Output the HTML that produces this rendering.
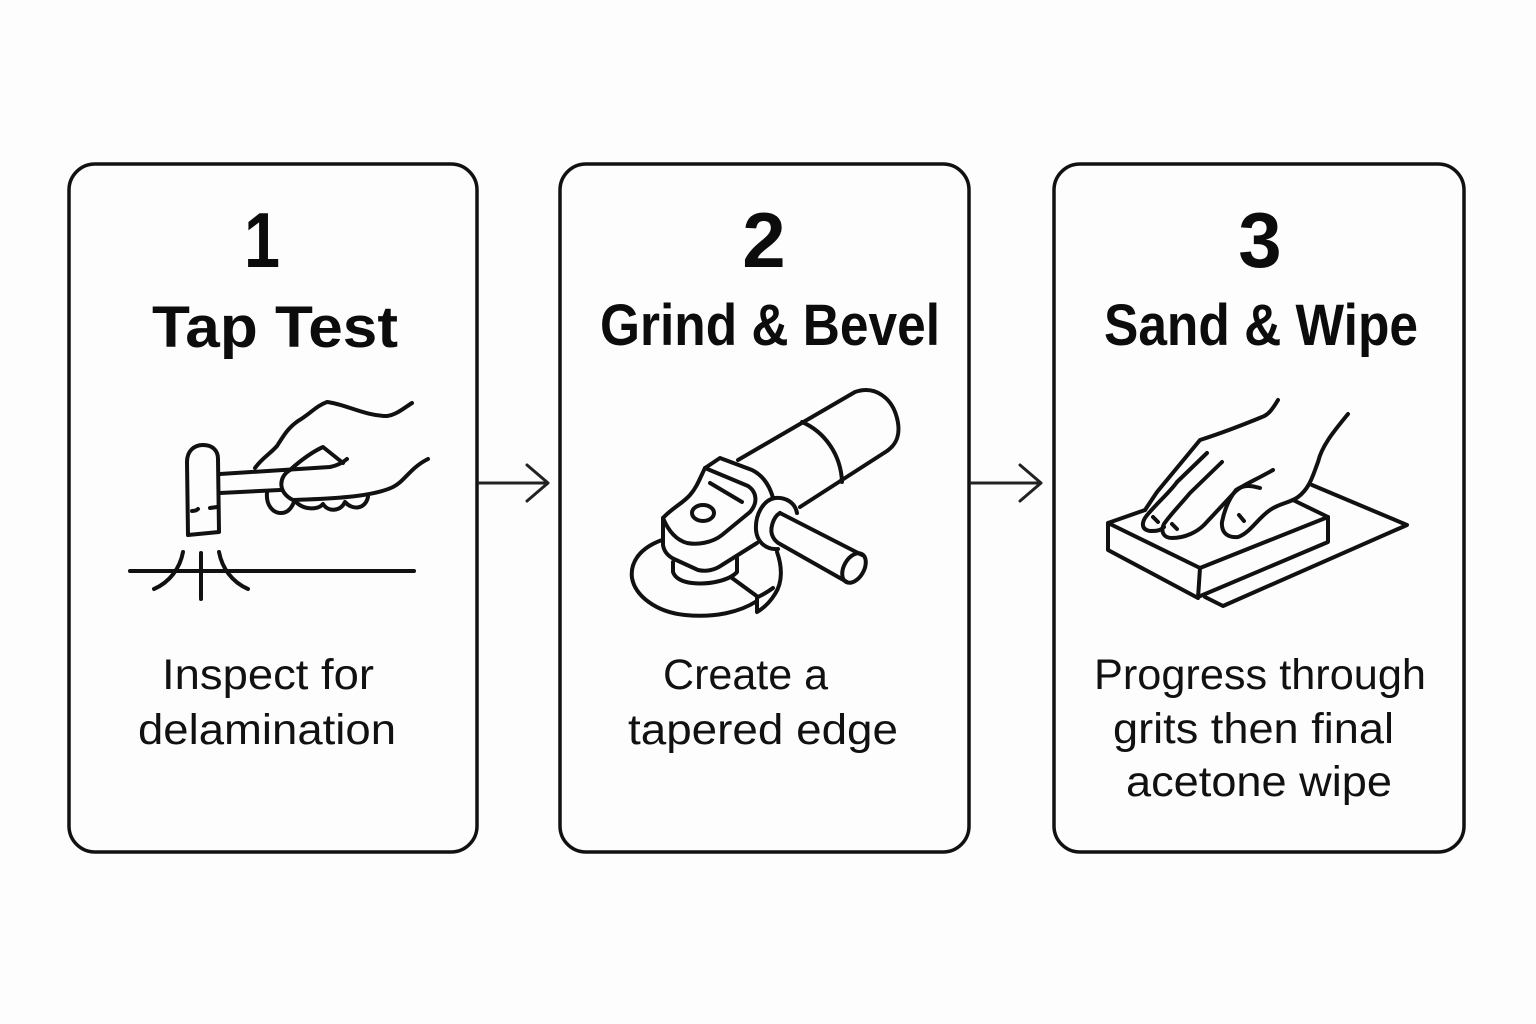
<!DOCTYPE html>
<html><head><meta charset="utf-8"><style>
html,body{margin:0;padding:0;background:#fdfdfd}
svg{display:block}
.n{font:700 78px "Liberation Sans",sans-serif;fill:#0c0c0c}
.t{font:700 58px "Liberation Sans",sans-serif;fill:#0c0c0c}
.b{font:400 43px "Liberation Sans",sans-serif;fill:#111}
.s{fill:none;stroke:#111;stroke-width:4;stroke-linecap:round;stroke-linejoin:round}
</style></head><body>
<svg width="1536" height="1024" viewBox="0 0 1536 1024" xmlns="http://www.w3.org/2000/svg">
<rect width="1536" height="1024" fill="#fdfdfd"/>
<g fill="none" stroke="#111" stroke-width="3.5">
<rect x="69" y="164" width="408" height="688" rx="26"/>
<rect x="560" y="164" width="409" height="688" rx="26"/>
<rect x="1054" y="164" width="410" height="688" rx="26"/>
</g>
<g fill="none" stroke="#222" stroke-width="3" stroke-linecap="round" stroke-linejoin="round">
<path d="M479 483H548M527 465L548 483L527 501"/>
<path d="M971 483H1041M1020 465L1041 483L1020 501"/>
</g>
<text class="n" x="262" y="267" text-anchor="middle" textLength="36" lengthAdjust="spacingAndGlyphs">1</text>
<text class="t" x="152" y="347" textLength="246" lengthAdjust="spacingAndGlyphs">Tap Test</text>
<text class="b" x="162" y="689" textLength="212" lengthAdjust="spacingAndGlyphs">Inspect for</text>
<text class="b" x="138" y="744" textLength="258" lengthAdjust="spacingAndGlyphs">delamination</text>
<text class="n" x="764" y="267" text-anchor="middle">2</text>
<text class="t" x="600" y="345" textLength="340" lengthAdjust="spacingAndGlyphs">Grind &amp; Bevel</text>
<text class="b" x="663" y="689" textLength="165" lengthAdjust="spacingAndGlyphs">Create a</text>
<text class="b" x="628" y="744" textLength="270" lengthAdjust="spacingAndGlyphs">tapered edge</text>
<text class="n" x="1260" y="267" text-anchor="middle">3</text>
<text class="t" x="1104" y="345" textLength="314" lengthAdjust="spacingAndGlyphs">Sand &amp; Wipe</text>
<text class="b" x="1094" y="689" textLength="332" lengthAdjust="spacingAndGlyphs">Progress through</text>
<text class="b" x="1113" y="743" textLength="281" lengthAdjust="spacingAndGlyphs">grits then final</text>
<text class="b" x="1126" y="796" textLength="266" lengthAdjust="spacingAndGlyphs">acetone wipe</text>

<g class="s">
<!-- hammer and hand -->
<path d="M188 535L187 462C187 451 194 445 203 445C212 445 218 450 218 459L219 532Z"/>
<path d="M192 511Q196 511 198 509M210 508L217 507"/>
<path d="M220 474L330 467Q340 465 347 459"/>
<path d="M220 493L280 490"/>
<path d="M255 468C262 458 270 454 277 446C284 435 288 428 298 421C310 414 316 406 327 402C345 404 365 416 387 416C396 415 404 408 412 403"/>
<path d="M290 470C300 461 312 452 323 447L343 463"/>
<path d="M290 470C278 477 278 493 293 500C320 499 370 498 393 487C405 481 410 468 428 459"/>
<path d="M267 493C266 504 272 513 281 513C288 513 292 507 294 502"/>
<path d="M297 503C305 510 318 510 323 504C328 512 340 512 345 502C352 510 365 510 368 497"/>
<path d="M130 571H414"/>
<path d="M201 553V599"/>
<path d="M183 552C180 568 170 582 154 589"/>
<path d="M219 552C222 568 232 582 248 589"/>
<!-- grinder -->
<path d="M738 460L855 392C875 385 892 398 897 418C901 434 897 444 887 451L800 507"/>
<path d="M802 422C825 432 841 455 842 482"/>
<path d="M705 468L720 458L752 470C764 476 770 487 773 498"/>
<path d="M705 468L748 486C757 492 758 503 750 512L722 535C712 543 697 545 687 543C676 540 668 530 663 518C672 508 682 504 690 495C697 487 700 478 705 468Z"/>
<path d="M663 518V545C664 552 668 556 674 559L698 570C706 572 715 570 722 565L757 543"/>
<path d="M710 483L742 502"/>
<ellipse cx="703" cy="513" rx="11" ry="8"/>
<path d="M797 513C795 502 785 497 775 498C763 500 755 515 756 530C757 542 766 550 778 549"/>
<path d="M780 513L862 555"/>
<path d="M780 513C773 517 769 530 773 537C775 541 778 543 780 544L847 582"/>
<ellipse cx="854" cy="568" rx="10" ry="16" transform="rotate(30 854 568)"/>
<path d="M673 562V572C675 578 682 582 692 583C710 585 730 580 737 572V558"/>
<path d="M662 540C640 548 630 562 632 578C635 595 655 612 685 615C715 618 740 612 757 601"/>
<path d="M777 552C782 566 783 582 775 594C770 602 764 608 757 612V598"/>
<path d="M732 578L758 597C764 594 769 591 773 588"/>
<!-- hand on block -->
<path d="M1278 400C1272 410 1268 415 1262 417C1245 424 1225 432 1200 440L1157 492L1145 510"/>
<path d="M1207 453L1177 482C1170 492 1160 500 1148 514C1140 523 1142 530 1150 531C1156 531 1160 531 1164 527"/>
<path d="M1222 462L1190 493C1180 505 1170 515 1164 524C1160 532 1164 538 1172 538C1185 538 1197 532 1204 525L1233 494C1240 486 1250 483 1273 470"/>
<path d="M1260 488C1250 485 1243 485 1236 490C1228 500 1224 512 1222 522C1221 533 1228 538 1238 537C1250 533 1258 518 1270 510C1280 503 1290 503 1298 497C1310 488 1313 475 1318 462C1322 445 1335 430 1348 414"/>
<path d="M1153 517L1158 522M1172 524L1177 529M1239 515L1244 521"/>
<path d="M1145 510L1108 523V550L1198 598L1200 568L1108 523"/>
<path d="M1200 568L1328 517L1293 500"/>
<path d="M1198 597L1328 542V517"/>
<path d="M1312 485L1407 525L1223 606L1205 597"/>
</g>
</svg>
</body></html>
